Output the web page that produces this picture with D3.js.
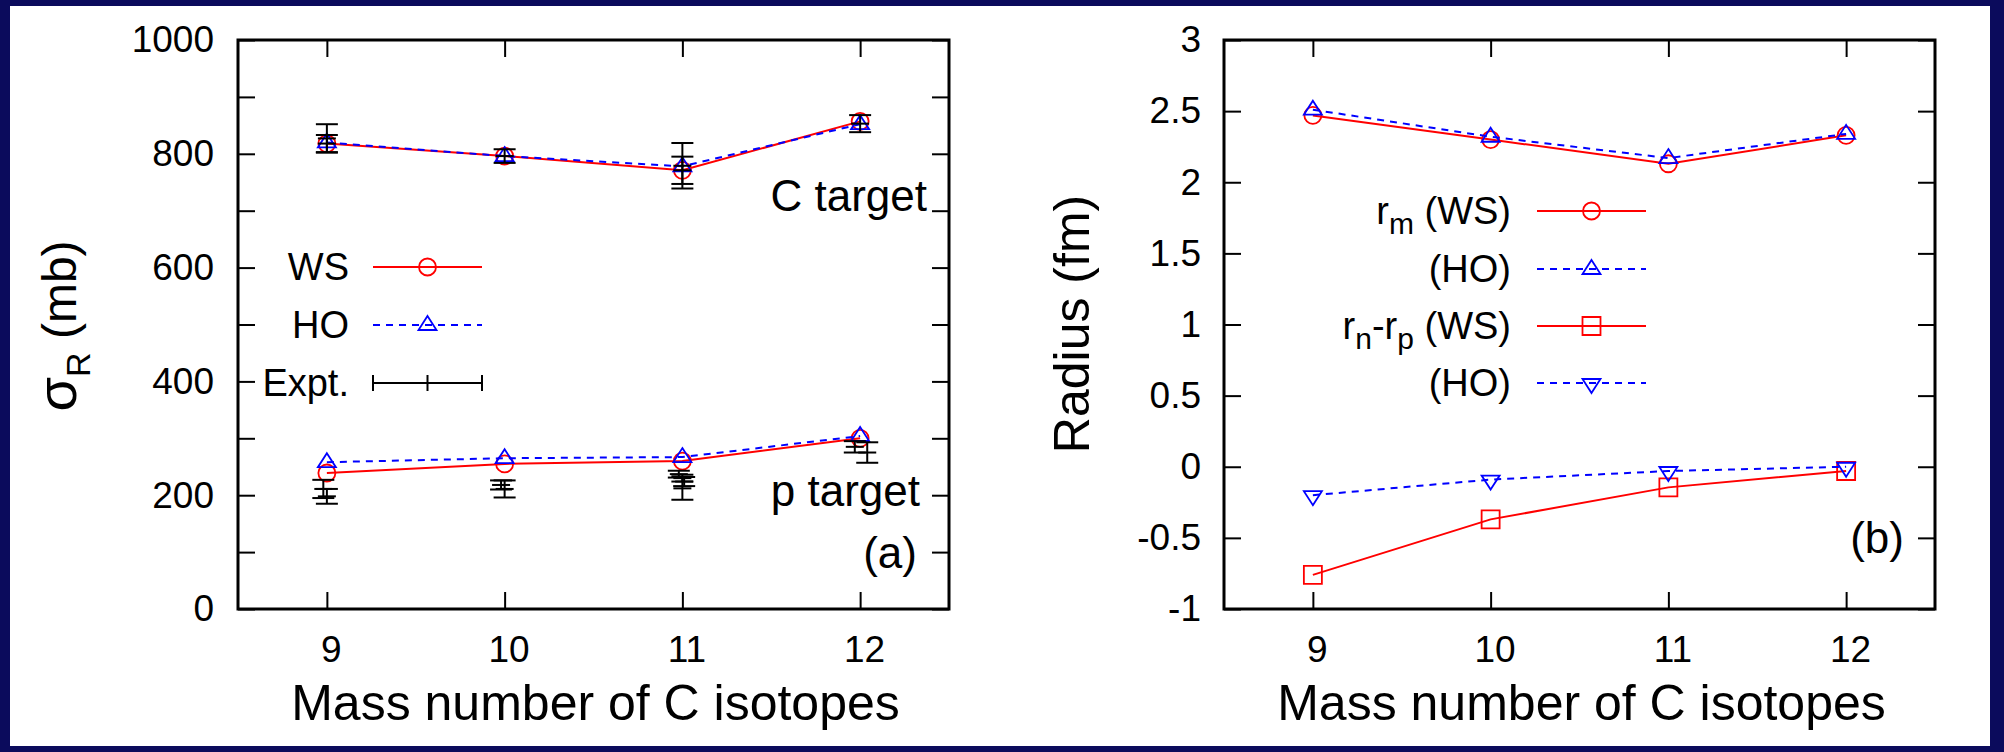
<!DOCTYPE html>
<html>
<head>
<meta charset="utf-8">
<script src="https://cdn.jsdelivr.net/npm/d3@7"></script>
<style>
  body { margin: 0; background: #0b0b5c; }
  svg { display: block; }
  text { font-family: "Liberation Sans", Arial, sans-serif; fill: #000; }
</style>
</head>
<body>
<svg width="2004" height="752"></svg>
<script>
// ---- data ----
const massNumbers = [9, 10, 11, 12];

// (a) reaction cross sections, mb
const sigmaC_WS = [818, 796, 771, 857];
const sigmaC_HO = [820, 796, 778, 852];
const sigmaP_WS = [239, 255, 260, 300];
const sigmaP_HO = [258, 265, 267, 304];

// experimental points: mass number, value, error
const exptC_A   = [9, 9, 10, 11, 11, 12];
const exptC_val = [827, 818, 796, 779, 771, 853];
const exptC_err = [25, 15, 12, 40, 24, 15];
const exptP_A   = [8.98, 9, 9.98, 10, 10.98, 11, 11.01, 11, 11.97, 12.04];
const exptP_val = [211, 198, 218, 211, 237, 230, 224, 212, 285, 275];
const exptP_err = [16, 13, 8, 15, 6, 6, 8, 20, 10, 18];

// (b) radii, fm
const rm_WS  = [2.47, 2.30, 2.13, 2.33];
const rm_HO  = [2.51, 2.32, 2.17, 2.34];
const rnp_WS = [-0.76, -0.37, -0.145, -0.03];
const rnp_HO = [-0.20, -0.09, -0.03, 0.00];

const yTicksA = d3.range(0, 1001, 100);
const yTicksB = [-1, -0.5, 0, 0.5, 1, 1.5, 2, 2.5, 3];

const svg = d3.select("svg");

svg.append("rect")
    .attr("x", 10).attr("y", 6)
    .attr("width", 1980).attr("height", 740)
    .attr("fill", "#fff");

const W = 711, H = 569;
const red = "#ff0000", blue = "#0000ff";

const shapes = {
    circle: "M8.5,0A8.5,8.5 0 1,1 -8.5,0A8.5,8.5 0 1,1 8.5,0Z",
    up: "M0,-9L9,5L-9,5Z",
    down: "M0,10L9,-4L-9,-4Z",
    square: "M-9,-9H9V9H-9Z"
};

function makePanel(left, yDomain, yTicks, labelTick, padLeft) {
    const g = svg.append("g").attr("transform", `translate(${left},40)`);
    const x = d3.scaleLinear().domain([8.5, 12.5]).range([0, W]);
    const y = d3.scaleLinear().domain(yDomain).range([H, 0]);

    const bottom = g.append("g").attr("transform", `translate(0,${H})`)
        .call(d3.axisBottom(x).tickValues(massNumbers).tickSize(-17).tickSizeOuter(0)
            .tickPadding(27).tickFormat(d3.format("d")));
    bottom.selectAll("text").attr("dx", 4);
    g.append("g")
        .call(d3.axisTop(x).tickValues(massNumbers).tickSize(-17).tickSizeOuter(0).tickFormat(""));
    g.append("g")
        .call(d3.axisLeft(y).tickValues(yTicks).tickSize(-17).tickSizeOuter(0).tickPadding(padLeft)
            .tickFormat(d => labelTick(d) ? String(d) : ""));
    g.append("g").attr("transform", `translate(${W},0)`)
        .call(d3.axisRight(y).tickValues(yTicks).tickSize(-17).tickSizeOuter(0).tickFormat(""));

    g.selectAll(".domain").remove();
    g.selectAll(".tick line").attr("stroke", "#000").attr("stroke-width", 2);
    g.selectAll(".tick text")
        .attr("font-family", "Liberation Sans, Arial, sans-serif")
        .attr("font-size", 37).attr("fill", "#000");

    g.append("rect")
        .attr("width", W).attr("height", H)
        .attr("fill", "none").attr("stroke", "#000").attr("stroke-width", 3);

    g.append("text")
        .attr("x", W / 2 + 2).attr("y", H + 111)
        .attr("text-anchor", "middle")
        .attr("font-size", 50)
        .text("Mass number of C isotopes");

    return { g, x, y };
}

function drawSeries(p, vals, color, dashed, shape) {
    const line = d3.line()
        .x((d, i) => p.x(massNumbers[i]))
        .y(d => p.y(d));
    p.g.append("path")
        .datum(vals)
        .attr("d", line)
        .attr("fill", "none")
        .attr("stroke", color)
        .attr("stroke-width", 2)
        .attr("stroke-dasharray", dashed ? "7,6" : null);
    p.g.selectAll(null)
        .data(vals)
        .enter().append("path")
        .attr("transform", (d, i) => `translate(${p.x(massNumbers[i])},${p.y(d)})`)
        .attr("d", shapes[shape])
        .attr("fill", "none")
        .attr("stroke", color)
        .attr("stroke-width", 1.8);
}

function drawExpt(p, A, vals, errs) {
    const pts = A.map((a, i) => ({ a: a, v: vals[i], e: errs[i] }));
    const eg = p.g.append("g").attr("stroke", "#000").attr("stroke-width", 2);
    pts.forEach(d => {
        const cx = p.x(d.a);
        const y1 = p.y(d.v + d.e), y0 = p.y(d.v - d.e), yc = p.y(d.v);
        eg.append("line").attr("x1", cx).attr("x2", cx).attr("y1", y1).attr("y2", y0);
        eg.append("line").attr("x1", cx - 11).attr("x2", cx + 11).attr("y1", y1).attr("y2", y1);
        eg.append("line").attr("x1", cx - 11).attr("x2", cx + 11).attr("y1", y0).attr("y2", y0);
        eg.append("line").attr("x1", cx - 9).attr("x2", cx + 9).attr("y1", yc).attr("y2", yc);
    });
}

function legendRow(g, tx, lx0, lx1, yy, label, color, dashed, shape) {
    const t = g.append("text")
        .attr("x", tx).attr("y", yy)
        .attr("dy", "0.35em")
        .attr("text-anchor", "end")
        .attr("font-size", 38);
    label(t);
    g.append("line")
        .attr("x1", lx0).attr("x2", lx1).attr("y1", yy).attr("y2", yy)
        .attr("stroke", color).attr("stroke-width", 2)
        .attr("stroke-dasharray", dashed ? "7,6" : null);
    const mx = (lx0 + lx1) / 2;
    if (shape === "expt") {
        const eg = g.append("g").attr("stroke", "#000").attr("stroke-width", 2);
        [lx0, mx, lx1].forEach(xx => {
            eg.append("line").attr("x1", xx).attr("x2", xx).attr("y1", yy - 8).attr("y2", yy + 8);
        });
    } else {
        g.append("path")
            .attr("transform", `translate(${mx},${yy})`)
            .attr("d", shapes[shape])
            .attr("fill", "none").attr("stroke", color).attr("stroke-width", 1.8);
    }
}

// ---------- panel (a) ----------
const pa = makePanel(238, [0, 1000], yTicksA, d => d % 200 === 0, 24);

drawSeries(pa, sigmaC_WS, red, false, "circle");
drawSeries(pa, sigmaC_HO, blue, true, "up");
drawSeries(pa, sigmaP_WS, red, false, "circle");
drawSeries(pa, sigmaP_HO, blue, true, "up");
drawExpt(pa, exptC_A, exptC_val, exptC_err);
drawExpt(pa, exptP_A, exptP_val, exptP_err);

svg.append("text").attr("x", 927).attr("y", 211).attr("text-anchor", "end")
    .attr("font-size", 44).text("C target");
svg.append("text").attr("x", 920).attr("y", 506).attr("text-anchor", "end")
    .attr("font-size", 44).text("p target");
svg.append("text").attr("x", 917).attr("y", 568).attr("text-anchor", "end")
    .attr("font-size", 44).text("(a)");

const ylabA = svg.append("text")
    .attr("transform", "translate(76,326) rotate(-90)")
    .attr("text-anchor", "middle")
    .attr("font-size", 48);
ylabA.append("tspan").attr("font-size", 56).text("σ");
ylabA.append("tspan").attr("font-size", 34).attr("dy", 14).text("R");
ylabA.append("tspan").attr("dy", -14).text(" (mb)");

legendRow(svg, 349, 373, 482, 267, t => t.text("WS"), red, false, "circle");
legendRow(svg, 349, 373, 482, 325, t => t.text("HO"), blue, true, "up");
legendRow(svg, 349, 373, 482, 383, t => t.text("Expt."), "#000", false, "expt");

// ---------- panel (b) ----------
const pb = makePanel(1224, [-1, 3], yTicksB, d => true, 23);

drawSeries(pb, rm_WS, red, false, "circle");
drawSeries(pb, rm_HO, blue, true, "up");
drawSeries(pb, rnp_WS, red, false, "square");
drawSeries(pb, rnp_HO, blue, true, "down");

svg.append("text").attr("x", 1904).attr("y", 553).attr("text-anchor", "end")
    .attr("font-size", 44).text("(b)");

svg.append("text")
    .attr("transform", "translate(1089,324) rotate(-90)")
    .attr("text-anchor", "middle")
    .attr("font-size", 50)
    .text("Radius (fm)");

function sub(t, base, s, rest) {
    t.append("tspan").text(base);
    t.append("tspan").attr("font-size", 30).attr("dy", 10).text(s);
    t.append("tspan").attr("dy", -10).text(rest);
}
legendRow(svg, 1511, 1537, 1646, 211, t => sub(t, "r", "m", " (WS)"), red, false, "circle");
legendRow(svg, 1511, 1537, 1646, 269, t => t.text("(HO)"), blue, true, "up");
legendRow(svg, 1511, 1537, 1646, 326, t => {
    t.append("tspan").text("r");
    t.append("tspan").attr("font-size", 30).attr("dy", 10).text("n");
    t.append("tspan").attr("dy", -10).text("-r");
    t.append("tspan").attr("font-size", 30).attr("dy", 10).text("p");
    t.append("tspan").attr("dy", -10).text(" (WS)");
}, red, false, "square");
legendRow(svg, 1511, 1537, 1646, 383, t => t.text("(HO)"), blue, true, "down");
</script>
</body>
</html>
